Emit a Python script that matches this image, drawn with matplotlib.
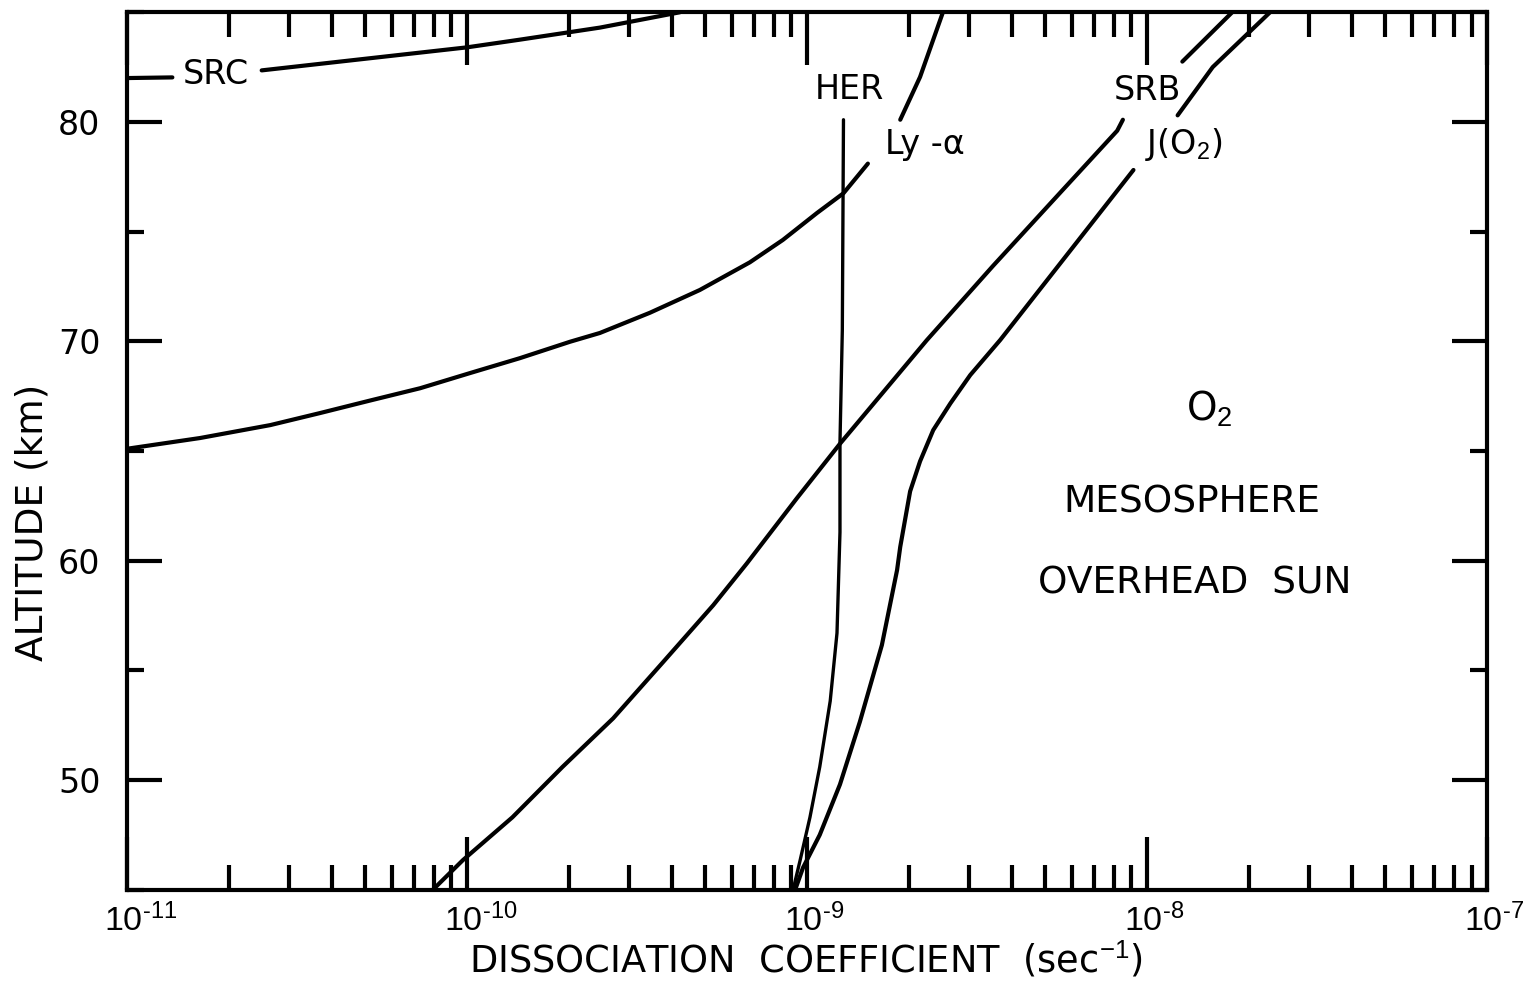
import numpy as np
import matplotlib
matplotlib.use("Agg")
import matplotlib.pyplot as plt
from matplotlib.ticker import LogLocator, NullFormatter, MultipleLocator, FixedLocator, FuncFormatter
from matplotlib.transforms import ScaledTranslation

# dissociation coefficients (sec^-1) vs altitude (km)
# nan marks the gap left for a curve label
src_j = [1.0e-11, 1.36e-11, np.nan, 2.49e-11, 1.0e-10, 1.43e-10, 2.46e-10, 4.23e-10]
src_z = [82.0, 82.03, np.nan, 82.35, 83.4, 83.75, 84.3, 85.0]

lya_j = [1.0e-11, 1.64e-11, 2.64e-11, 3.70e-11, 5.19e-11, 7.28e-11, 1.02e-10,
         1.43e-10, 2.01e-10, 2.46e-10, 3.45e-10, 4.84e-10, 6.79e-10, 8.49e-10,
         1.07e-9, 1.28e-9, 1.51e-9, np.nan, 1.88e-9, 2.15e-9, 2.51e-9]
lya_z = [65.1, 65.59, 66.18, 66.73, 67.3, 67.86, 68.55,
         69.23, 69.98, 70.38, 71.3, 72.34, 73.6, 74.62,
         75.85, 76.75, 78.1, np.nan, 80.1, 82.05, 85.0]

her_j = [1.28e-9, 1.27e-9, 1.25e-9, 1.25e-9, 1.225e-9, 1.17e-9, 1.09e-9,
         1.02e-9, 9.53e-10, 9.10e-10]
her_z = [80.1, 70.5, 65.4, 61.3, 56.7, 53.6, 50.6, 48.3, 46.3, 45.0]

srb_j = [7.94e-11, 9.73e-11, 1.36e-10, 1.91e-10, 2.69e-10, 3.78e-10, 5.30e-10,
         6.65e-10, 9.33e-10, 1.25e-9, 2.25e-9, 3.52e-9, 5.55e-9, 8.17e-9, 8.49e-9,
         np.nan, 1.27e-8, 1.78e-8]
srb_z = [45.0, 46.35, 48.3, 50.6, 52.81, 55.39, 57.97,
         59.87, 62.84, 65.33, 70.05, 73.43, 76.77, 79.6, 80.1,
         np.nan, 82.75, 85.0]

jo2_j = [9.23e-10, 9.73e-10, 1.09e-9, 1.25e-9, 1.43e-9, 1.66e-9, 1.84e-9,
         1.88e-9, 2.01e-9, 2.15e-9, 2.35e-9, 2.64e-9, 3.02e-9, 3.70e-9, 9.12e-9,
         np.nan, 1.23e-8, 1.56e-8, 2.30e-8]
jo2_z = [45.0, 46.0, 47.5, 49.8, 52.65, 56.15, 59.57,
         60.63, 63.16, 64.53, 65.95, 67.17, 68.46, 70.06, 77.81,
         np.nan, 80.3, 82.5, 85.0]

# label text and anchor (coefficient, altitude)
curve_labels = ["SRC", "HER", "SRB", "Ly -\u03b1", "J(O$_2$)"]
label_j = [1.82e-11, 1.33e-9, 1.0e-8, 2.22e-9, 1.28e-8]
label_z = [82.15, 81.5, 81.45, 78.95, 78.95]

x_major = [1e-11, 1e-10, 1e-9, 1e-8, 1e-7]
y_major = [50, 60, 70, 80]

plt.rcParams['font.family'] = ['DejaVu Sans']
plt.rcParams['mathtext.fontset'] = 'custom'
plt.rcParams['mathtext.rm'] = 'Liberation Sans'
plt.rcParams['mathtext.it'] = 'Liberation Sans:italic'
plt.rcParams['mathtext.bf'] = 'Liberation Sans:bold'


def decade_label(v, pos):
    # short hyphen in the exponent, like the original lettering
    return "$\\mathrm{10^{\u2010%d}}$" % abs(int(round(np.log10(v))))


fig = plt.figure(figsize=(15.26, 9.88), dpi=100)
ax = fig.add_axes([0.0832, 0.0995, 0.8913, 0.8881])

lw = 3.0
for xs, zs in [(src_j, src_z), (lya_j, lya_z), (srb_j, srb_z), (jo2_j, jo2_z)]:
    ax.plot(xs, zs, color="black", lw=lw, solid_capstyle="round")
ax.plot(her_j, her_z, color="black", lw=2.4, solid_capstyle="round")

ax.set_xscale("log")
ax.set_xlim(1e-11, 1e-7)
ax.set_ylim(45, 85)

for s in ax.spines.values():
    s.set_linewidth(3.0)

ax.xaxis.set_major_locator(FixedLocator(x_major))
ax.xaxis.set_major_formatter(FuncFormatter(decade_label))
ax.xaxis.set_minor_locator(LogLocator(base=10, subs=np.arange(2, 10), numticks=20))
ax.xaxis.set_minor_formatter(NullFormatter())
ax.yaxis.set_major_locator(FixedLocator(y_major))
ax.yaxis.set_minor_locator(MultipleLocator(5))

ax.tick_params(axis="x", which="major", direction="in", top=True, length=38, width=3, labelsize=24.5, pad=10)
ax.tick_params(axis="x", which="minor", direction="in", top=True, length=18, width=3)
ax.tick_params(axis="y", which="major", direction="in", right=True, length=25, width=3, labelsize=24, pad=19)
ax.tick_params(axis="y", which="minor", direction="in", right=True, length=12, width=3)

# put the "10" of each decade label under its tick, exponent hanging to the right
shift = ScaledTranslation(-0.23, 0, fig.dpi_scale_trans)
for t in ax.xaxis.get_major_ticks():
    t.label1.set_horizontalalignment("left")
    t.label1.set_transform(t.label1.get_transform() + shift)

for txt, xj, zz in zip(curve_labels, label_j, label_z):
    ax.text(xj, zz, txt, fontsize=24, ha="center", va="center")

ax.text(1.53e-8, 66.9, "O$_2$", fontsize=28, ha="center", va="center")
ax.text(1.355e-8, 62.66, "MESOSPHERE", fontsize=27, ha="center", va="center")
ax.text(1.385e-8, 58.98, "OVERHEAD  SUN", fontsize=27, ha="center", va="center")

ax.set_xlabel("DISSOCIATION  COEFFICIENT  (sec$^{-1}$)", fontsize=26.5, va="center")
ax.xaxis.set_label_coords(0.499, -0.081)
ax.set_ylabel("ALTITUDE (km)", fontsize=27, va="center")
ax.yaxis.set_label_coords(-0.0695, 0.419)

fig.savefig("out.png", dpi=100)
